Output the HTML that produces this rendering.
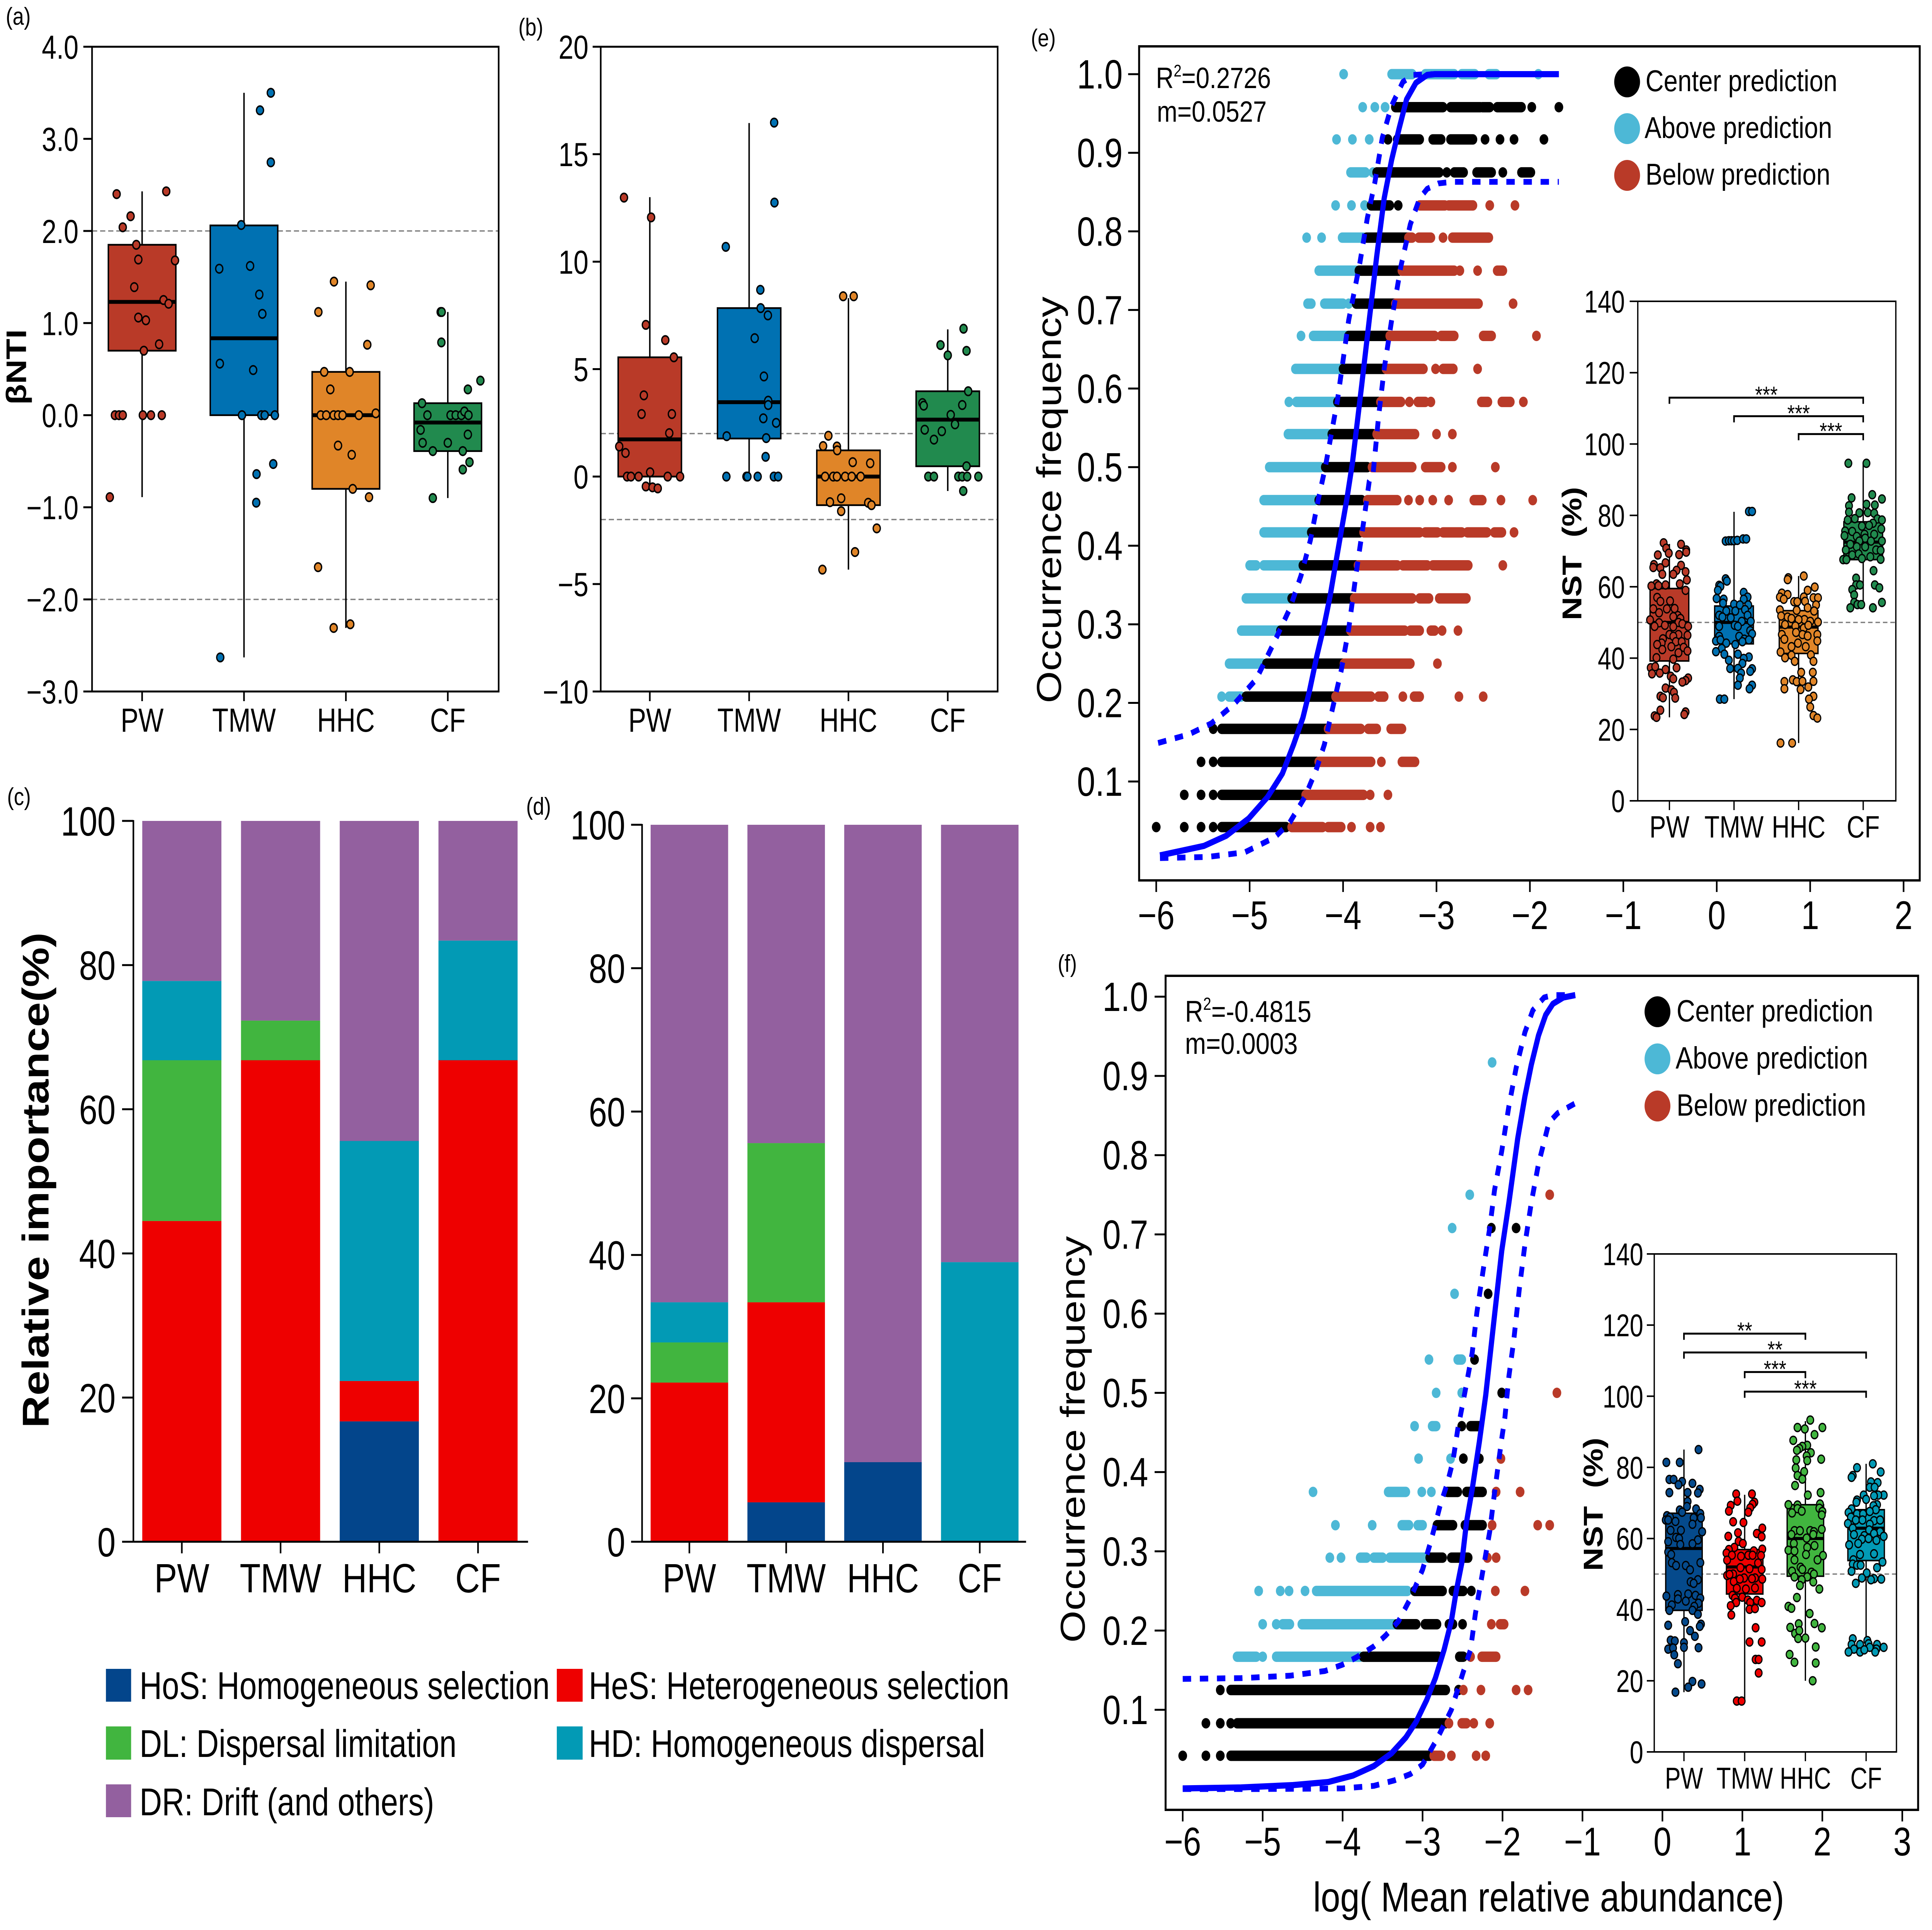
<!DOCTYPE html>
<html lang="en">
<head>
<meta charset="utf-8">
<title>Community assembly figure</title>
<style>
html,body{margin:0;padding:0;background:#fff;width:100%;height:100%;overflow:hidden}
svg{display:block;width:100vw;height:100vh;font-family:"Liberation Sans",Arial,sans-serif}
</style>
</head>
<body>
<svg id="figure" xmlns="http://www.w3.org/2000/svg" viewBox="0 0 5982 4996" preserveAspectRatio="none">
<rect x="0" y="0" width="5982" height="4996" fill="#fff"/>
<g font-size="63" fill="#000">
<text x="18" y="64">(a)</text>
<text x="1605" y="92">(b)</text>
<text x="22" y="2084">(c)</text>
<text x="1629" y="2109">(d)</text>
<text x="3192" y="120">(e)</text>
<text x="3275" y="2516">(f)</text>
</g>
<text transform="translate(81 950) rotate(-90)" text-anchor="middle" font-size="88" font-weight="bold">βNTI</text>
<text transform="translate(150 3055) rotate(-90)" text-anchor="middle" font-size="116" font-weight="bold">Relative importance(%)</text>
<text transform="translate(3285 1294) rotate(-90)" text-anchor="middle" font-size="107">Occurrence frequency</text>
<text transform="translate(3358 3726) rotate(-90)" text-anchor="middle" font-size="107">Occurrence frequency</text>
<text x="4795" y="4948" text-anchor="middle" font-size="108">log( Mean relative abundance)</text>
<text transform="translate(4896 1433) rotate(-90)" text-anchor="middle" font-size="84" font-weight="bold">NST&#160;&#160;(%)</text>
<text transform="translate(4962 3894) rotate(-90)" text-anchor="middle" font-size="84" font-weight="bold">NST&#160;&#160;(%)</text>
<g font-size="76">
<text x="3579" y="228">R<tspan font-size="44" dy="-30">2</tspan><tspan dy="30">=0.2726</tspan></text>
<text x="3582" y="315">m=0.0527</text>
</g>
<g font-size="78">
<text x="3669" y="2645">R<tspan font-size="45" dy="-31">2</tspan><tspan dy="31">=-0.4815</tspan></text>
<text x="3669" y="2728">m=0.0003</text>
</g>
<g font-size="78">
<circle cx="5038" cy="212" r="40" fill="#000"/>
<text x="5095" y="236">Center prediction</text>
<circle cx="5038" cy="333" r="40" fill="#4db8d6"/>
<text x="5092" y="357">Above prediction</text>
<circle cx="5038" cy="454" r="40" fill="#b93a28"/>
<text x="5095" y="478">Below prediction</text>
</g>
<g font-size="80">
<circle cx="5132" cy="2619" r="40" fill="#000"/>
<text x="5191" y="2644">Center prediction</text>
<circle cx="5132" cy="2741" r="40" fill="#4db8d6"/>
<text x="5188" y="2766">Above prediction</text>
<circle cx="5132" cy="2863" r="40" fill="#b93a28"/>
<text x="5191" y="2888">Below prediction</text>
</g>
<g font-size="100">
<rect x="328" y="4320" width="78" height="85" fill="#03458b"/>
<text transform="translate(432 4398) scale(.96 1)">HoS: Homogeneous selection</text>
<rect x="1724" y="4320" width="80" height="85" fill="#ee0000"/>
<text transform="translate(1823 4398) scale(.96 1)">HeS: Heterogeneous selection</text>
<rect x="328" y="4469" width="78" height="86" fill="#41b53f"/>
<text transform="translate(432 4548) scale(.96 1)">DL: Dispersal limitation</text>
<rect x="1724" y="4469" width="80" height="86" fill="#029ab5"/>
<text transform="translate(1823 4548) scale(.96 1)">HD: Homogeneous dispersal</text>
<rect x="328" y="4619" width="78" height="85" fill="#93609f"/>
<text transform="translate(432 4699) scale(.96 1)">DR: Drift (and others)</text>
</g>
</svg>
<script>
/* ---------- shared category labels ---------- */
const siteCategories = ['PW','TMW','HHC','CF'];

/* ---------- panel (a) betaNTI: [jitter in category units, value] ---------- */
const ntiTicks = [4,3,2,1,0,-1,-2,-3];
const ntiTickLabels = ['4.0','3.0','2.0','1.0','0.0','\u22121.0','\u22122.0','\u22123.0'];
const ntiThresholds = [2,-2];
const ntiBoxes = [[-.89,.70,1.23,1.85,2.43],[-2.63,0,.835,2.06,3.5],[-2.31,-.80,0,.47,1.45],[-.90,-.39,-.08,.13,1.12]];
const ntiPW = [[-.25,2.40],[.237,2.43],[-.113,2.16],[-.19,2.04],[-.057,1.85],[-.037,1.69],[.323,1.68],[-.077,1.39],[.21,1.25],[.26,1.21],[-.037,1.06],[.037,1.03],[.017,.70],[.167,.77],[-.267,0],[-.227,0],[-.19,0],[.007,0],[.087,0],[.193,0],[-.317,-.89]];
const ntiTMW = [[.263,3.50],[.157,3.31],[.263,2.745],[-.027,2.065],[-.243,1.59],[.06,1.62],[.15,1.31],[.18,1.10],[-.237,.56],[.09,.49],[-.02,0],[.17,0],[.203,0],[.303,0],[.123,-.64],[.287,-.53],[.12,-.95],[-.233,-2.63]];
const ntiHHC = [[-.117,1.45],[.243,1.41],[-.27,1.12],[.21,.765],[-.213,.47],[.037,.47],[-.153,.28],[-.247,0],[-.193,0],[-.12,0],[-.077,0],[-.033,0],[.127,0],[.293,.02],[-.077,-.33],[.057,-.43],[.067,-.80],[.227,-.89],[-.273,-1.65],[-.12,-2.31],[.043,-2.27]];
const ntiCF = [[-.07,1.12],[-.06,1.12],[-.063,.79],[.32,.375],[.197,.28],[-.253,.13],[-.2,0],[.027,0],[.077,0],[.133,0],[.163,.04],[.203,0],[-.267,-.16],[.197,-.21],[-.247,-.30],[0,-.30],[-.147,-.39],[.147,-.39],[.213,-.51],[.147,-.59],[-.147,-.90]];

/* ---------- panel (b) ---------- */
const nriTicks = [20,15,10,5,0,-5,-10];
const nriTickLabels = ['20','15','10','5','0','\u22125','\u221210'];
const nriThresholds = [2,-2];
const nriBoxes = [[-.55,0,1.73,5.55,13],[0,1.77,3.46,7.84,16.45],[-4.33,-1.33,0,1.22,8.3],[-.67,.48,2.65,3.97,6.85]];
const nriPW = [[-.26,12.98],[.013,12.06],[-.04,7.06],[.156,6.35],[.242,5.55],[-.06,3.78],[-.083,2.91],[.222,2.91],[.196,2.02],[-.308,1.40],[-.245,1.10],[-.229,0],[-.19,0],[-.113,0],[.18,0],[.305,0],[.003,.2],[-.04,-.46],[.027,-.5],[.08,-.55]];
const nriTMW = [[.252,16.47],[.255,12.75],[-.235,10.69],[.113,8.69],[.116,7.84],[.189,7.5],[.056,6.44],[.149,4.66],[.192,3.53],[.192,3.33],[.143,2.71],[.272,2.5],[-.226,1.88],[.172,1.79],[.166,.92],[-.229,0],[-.027,0],[-.017,0],[.086,0],[.249,0],[.292,0]];
const nriHHC = [[-.053,8.39],[.053,8.39],[-.202,1.9],[-.255,1.42],[-.116,1.4],[-.113,1.22],[.043,.67],[.219,.62],[-.235,0],[-.153,0],[-.116,0],[-.033,0],[.033,0],[.123,0],[-.073,-1.01],[-.186,-1.19],[.199,-1.22],[.232,-1.33],[-.073,-1.61],[.285,-2.41],[.066,-3.51],[-.262,-4.33]];
const nriCF = [[.159,6.88],[-.073,6.12],[0,5.64],[.189,5.85],[.206,3.97],[-.255,3.42],[-.242,3.3],[.146,3.33],[.03,2.87],[.073,2.43],[-.232,2.18],[-.06,2.11],[-.139,1.72],[.189,.48],[-.196,0],[-.139,0],[.106,0],[.146,0],[.196,0],[.308,0],[.156,-.67]];

/* ---------- panels (c) and (d) stacked bars ---------- */
const importanceTicks = [100,80,60,40,20,0];
const processNames = ['HoS','HeS','DL','HD','DR'];
const cHoS = [0,0,16.7,0];
const cHeS = [44.5,66.8,5.6,66.8];
const cDL = [22.3,5.5,0,0];
const cHD = [11,0,33.3,16.6];
const cDR = [22.2,27.7,44.4,16.6];
const dHoS = [0,5.5,11.1,0];
const dHeS = [22.2,27.9,0,0];
const dDL = [5.6,22.2,0,0];
const dHD = [5.6,0,0,39];
const dDR = [66.6,44.4,88.9,61];

/* ---------- panel (e) neutral model: numbers are single taxa, pairs are dense runs ---------- */
const occurrenceTicks = [1,.9,.8,.7,.6,.5,.4,.3,.2,.1];
const occurrenceTickLabels = ['1.0','0.9','0.8','0.7','0.6','0.5','0.4','0.3','0.2','0.1'];
const abundanceTicksE = [-6,-5,-4,-3,-2,-1,0,1,2];
const abundanceTicksF = [-6,-5,-4,-3,-2,-1,0,1,2,3];
const occurrenceE = [1,.958,.917,.875,.833,.792,.75,.708,.667,.625,.583,.542,.5,.458,.417,.375,.333,.292,.25,.208,.167,.125,.083,.042];
const aboveE = [
[-3.994,[-3.48,-3.26],[-3.12,-2.81],[-2.73,-2.59],[-2.44,-2.36],-1.91],
[-3.79,-3.66,-3.55],
[-4.07,-3.90,-3.72],
[[-3.92,-3.76],-3.68],
[-4.08,-3.91,-3.77],
[-4.39,-4.23,[-4.01,-3.78]],
[[-4.26,-3.86]],
[[-4.38,-4.34],[-4.20,-4.0],-3.94],
[-4.45,[-4.32,-3.96]],
[[-4.51,-4.02]],
[-4.58,[-4.50,-4.08]],
[[-4.59,-4.16]],
[[-4.79,-4.24]],
[[-4.85,-4.30]],
[[-4.85,-4.36]],
[[-5.0,-4.93],[-4.85,-4.46]],
[[-5.04,-4.57]],
[[-5.09,-4.69]],
[[-5.22,-4.86]],
[-5.30,[-5.22,-5.09]],
[],[],[],[]];
const centerE = [
[],
[[-3.44,-2.93],[-2.85,-2.53],[-2.51,-2.43],[-2.35,-2.09],-1.98,-1.69],
[-3.52,[-3.42,-3.18],[-3.04,-2.95],[-2.85,-2.61],-2.48,-2.32,-2.17,-1.85],
[[-3.64,-2.97],-2.89,[-2.81,-2.71],[-2.57,-2.41],-2.29,[-2.09,-1.99]],
[[-3.70,-3.50],-3.41],
[[-3.75,-3.30]],
[[-3.83,-3.40]],
[[-3.86,-3.44]],
[[-3.94,-3.51]],
[[-4.0,-3.56]],
[[-4.06,-3.62]],
[[-4.12,-3.68]],
[[-4.19,-3.74]],
[[-4.26,-3.80]],
[[-4.34,-3.82]],
[[-4.43,-3.86]],
[[-4.55,-3.90]],
[[-4.67,-3.94]],
[[-4.82,-4.0]],
[[-5.04,-4.08]],
[-5.39,[-5.30,-4.16]],
[-5.52,-5.39,[-5.30,-4.28]],
[-5.70,-5.52,-5.39,[-5.30,-4.40]],
[-6.0,-5.70,-5.52,-5.39,[-5.30,-4.61]]];
const belowE = [
[],[],[],[],
[[-3.18,-2.91],[-2.87,-2.61],-2.43,-2.16],
[[-3.30,-3.26],[-3.19,-3.06],-2.93,[-2.83,-2.44]],
[[-3.37,-2.81],-2.75,-2.56,[-2.35,-2.29]],
[[-3.44,-2.55],-2.18],
[[-3.50,-3.02],[-2.95,-2.81],[-2.50,-2.41],-1.93],
[[-3.54,-3.14],-3.01,[-2.93,-2.82],-2.56],
[[-3.60,-3.38],-3.29,[-3.20,-3.12],-3.06,[-2.52,-2.45],[-2.30,-2.21],-2.07],
[[-3.64,-3.23],-3.0,-2.83],
[[-3.69,-3.26],[-3.12,-2.95],-2.83,-2.37],
[[-3.74,-3.42],-3.30,-3.18,-3.04,-2.87,[-2.60,-2.51],-2.31,-1.97],
[[-3.78,-3.18],[-3.12,-2.99],[-2.93,-2.73],[-2.67,-2.46],[-2.38,-2.30],-2.17],
[[-3.84,-3.42],[-3.36,-3.10],[-3.04,-2.66],-2.29],
[[-3.88,-3.26],[-3.18,-3.08],[-2.97,-2.68]],
[[-3.92,-3.34],[-3.28,-3.18],[-3.06,-3.02],-2.94,-2.77],
[[-3.99,-3.28],-2.99],
[[-4.08,-3.70],[-3.62,-3.56],-3.36,[-3.24,-3.18],-2.76,-2.50],
[[-4.16,-3.81],[-3.73,-3.64],[-3.49,-3.37]],
[[-4.26,-3.70],-3.59,[-3.37,-3.23]],
[[-4.40,-3.78],-3.71,-3.52],
[[-4.55,-4.22],[-4.16,-4.02],-3.91,-3.71,-3.60]];
const fitE = [[-5.96,.006],[-5.49,.018],[-5.25,.031],[-5.01,.053],[-4.81,.08],[-4.65,.11],[-4.53,.147],[-4.43,.181],[-4.36,.215],[-4.28,.26],[-4.2,.30],[-4.14,.335],[-4.08,.377],[-4.02,.418],[-3.96,.459],[-3.90,.505],[-3.80,.605],[-3.72,.687],[-3.64,.768],[-3.56,.842],[-3.48,.891],[-3.40,.931],[-3.32,.968],[-3.22,.989],[-3.10,.999],[-3.02,1],[-1.69,1]];
const upperE = [[-5.98,.149],[-5.65,.16],[-5.41,.174],[-5.17,.198],[-4.93,.23],[-4.73,.279],[-4.57,.32],[-4.45,.362],[-4.35,.407],[-4.27,.456],[-4.19,.50],[-4.06,.585],[-3.94,.687],[-3.82,.76],[-3.74,.817],[-3.66,.862],[-3.58,.919],[-3.48,.96],[-3.36,.99],[-3.25,.999],[-3.10,1],[-1.69,1]];
const lowerE = [[-5.96,.0026],[-5.45,.004],[-5.05,.01],[-4.73,.029],[-4.57,.048],[-4.41,.08],[-4.29,.114],[-4.2,.147],[-4.12,.189],[-4.02,.241],[-3.94,.294],[-3.86,.365],[-3.78,.43],[-3.72,.482],[-3.68,.49],[-3.62,.564],[-3.56,.625],[-3.48,.687],[-3.38,.756],[-3.28,.809],[-3.18,.842],[-3.10,.854],[-2.98,.861],[-2.83,.863],[-1.69,.863]];

/* ---------- panel (f) neutral model ---------- */
const occurrenceF = [.917,.75,.708,.625,.542,.5,.458,.417,.375,.333,.292,.25,.208,.167,.125,.083,.042];
const aboveF = [
[-2.13],
[-2.41],
[-2.63],
[-2.60],
[-2.92,[-2.56,-2.51]],
[-2.83,-2.51],
[-3.10,[-2.88,-2.83]],
[-3.05,-2.65],
[-4.37,[-3.43,-3.21],-3.01,-2.89],
[-4.09,-3.63,[-3.26,-3.17],[-3.06,-3.0]],
[-4.16,-4.02,[-3.78,-3.70],[-3.61,-3.50],[-3.41,-2.93]],
[-5.05,-4.78,-4.67,-4.47,[-4.33,-3.19]],
[-5.0,-4.83,[-4.75,-4.66],[-4.51,-3.35]],
[[-5.32,-5.08],-5.0,[-4.83,-3.78]],
[],[],[]];
const centerF = [
[],[],
[-2.14,-1.83],
[-2.18],
[-2.35],
[-2.01],
[-2.51,[-2.40,-2.29]],
[-2.49,-2.29],
[[-2.69,-2.56],[-2.45,-2.25]],
[[-2.82,-2.62],[-2.47,-2.25]],
[[-2.91,-2.75],[-2.64,-2.43]],
[[-3.10,-2.75],[-2.62,-2.49],-2.39],
[[-3.32,-3.08],[-2.97,-2.82],[-2.67,-2.62],-2.50],
[[-3.74,-2.80],[-2.54,-2.49]],
[-5.53,[-5.40,-2.71],-2.55],
[-5.71,-5.53,-5.40,[-5.32,-2.71]],
[-6.0,-5.71,-5.53,[-5.40,-2.91]]];
const belowF = [
[],
[-1.41],
[],[],[],
[-1.32],
[],
[-2.02],
[-2.08,-1.78],
[-2.13,-1.56,-1.41],
[-2.19,-2.08],
[-2.09,-1.72],
[-2.14,[-2.03,-1.98]],
[-2.40,[-2.26,-2.08]],
[-2.49,-2.27,-1.83,-1.68],
[-2.67,[-2.51,-2.45],-2.36,-2.16],
[[-2.86,-2.77],-2.64,-2.33,-2.21]];
const fitF = [[-6,.0008],[-5.27,.002],[-4.62,.005],[-4.18,.0089],[-3.87,.017],[-3.61,.029],[-3.39,.045],[-3.21,.065],[-3.08,.085],[-2.95,.112],[-2.84,.14],[-2.73,.176],[-2.64,.212],[-2.58,.249],[-2.51,.285],[-2.45,.337],[-2.38,.378],[-2.29,.438],[-2.21,.497],[-2.10,.598],[-2.01,.679],[-1.92,.74],[-1.81,.821],[-1.72,.874],[-1.64,.914],[-1.55,.951],[-1.46,.977],[-1.37,.991],[-1.24,.999],[-1.09,1.002]];
const upperF = [[-6,.139],[-5.27,.14],[-4.66,.143],[-4.22,.149],[-4.0,.157],[-3.83,.166],[-3.61,.18],[-3.46,.194],[-3.30,.212],[-3.15,.241],[-3.0,.277],[-2.89,.315],[-2.78,.358],[-2.69,.386],[-2.62,.414],[-2.56,.454],[-2.47,.501],[-2.38,.55],[-2.32,.602],[-2.23,.663],[-2.16,.708],[-2.10,.756],[-2.01,.805],[-1.92,.862],[-1.83,.91],[-1.72,.955],[-1.62,.983],[-1.48,.999],[-1.37,1.002],[-1.11,1.002]];
const lowerF = [[-6,0],[-5.05,0],[-4.0,.0008],[-3.61,.004],[-3.35,.011],[-3.15,.019],[-3.0,.031],[-2.82,.063],[-2.64,.1],[-2.49,.148],[-2.40,.176],[-2.34,.221],[-2.25,.273],[-2.16,.325],[-2.10,.374],[-2.01,.442],[-1.97,.469],[-1.92,.521],[-1.86,.566],[-1.79,.631],[-1.72,.687],[-1.64,.74],[-1.55,.789],[-1.46,.825],[-1.42,.841],[-1.31,.853],[-1.08,.866]];

/* ---------- NST insets ---------- */
const nstTicks = [140,120,100,80,60,40,20,0];
const nstReference = [50];
const nstEBoxes = [[23.4,39.2,50,59.5,72],[28.5,44,50,54.6,81],[16.2,41.3,48.7,53.3,63],[54.5,67.6,72.5,78.2,94.5]];
const nstEBrackets = [[0,3,113,'***'],[1,3,107.8,'***'],[2,3,102.8,'***']];
const nstEPW = [[-.09,72.3],[.18,71.9],[-.05,70.8],[.26,70.3],[-.01,69.4],[-.18,68.9],[.15,69],[.26,69.7],[-.06,66.7],[-.24,66.2],[.18,66],[-.25,65.4],[-.14,65.3],[.11,64.6],[.06,63.5],[.25,64.2],[-.11,63.5],[.27,61.9],[-.2,60.8],[-.06,60.5],[-.17,60.3],[-.28,60.2],[.16,60.8],[.25,59],[-.19,57],[-.14,55.9],[.01,56],[-.25,53.8],[-.04,53.8],[.08,53.9],[-.16,52.7],[.13,51.9],[.06,51.6],[.17,51.1],[-.3,50.7],[-.16,49.9],[-.07,49.2],[.14,50],[.2,49.6],[.29,48.9],[-.23,48.9],[.06,48.8],[-.1,45.4],[0,46.6],[.14,46.6],[.28,46.4],[.06,46.1],[-.12,44.2],[.1,44.6],[.19,44.6],[-.19,43.8],[.03,43.2],[.22,43],[-.11,42.4],[.28,42],[.14,41.5],[-.2,40.1],[.06,39.7],[-.29,37.3],[-.22,37.6],[.11,37.3],[-.06,36.8],[-.27,35.6],[-.15,35.8],[.02,34.9],[.06,34.2],[.29,34.4],[.25,33.7],[.2,33.3],[-.06,31.6],[.03,31.1],[.07,30.4],[-.14,29.3],[-.1,28.9],[.09,28.8],[-.14,25.4],[.25,24.9],[.23,24.2],[-.23,23.8],[-.2,23.4]];
const nstETMW = [[.23,81.1],[.28,81.1],[-.13,72.8],[-.08,72.9],[-.04,72.9],[0,72.9],[.05,73],[.14,73.4],[.19,73.4],[-.13,62.2],[-.11,61.6],[-.23,60.4],[-.21,60.1],[-.25,59],[.15,58.4],[.21,57.1],[-.27,56.7],[-.16,56.5],[.15,56.5],[-.17,55.4],[0,55.1],[.09,54.9],[.22,54.9],[-.12,53.2],[.02,53.2],[.17,53.6],[-.23,52],[.21,52],[-.18,51.5],[-.05,51.3],[.12,50.3],[.26,50.3],[-.23,48.9],[.01,49.2],[.06,48.9],[.25,47.7],[.28,46.8],[.08,46.1],[-.23,46.1],[-.28,44.8],[-.21,45.1],[.16,45.3],[.23,45.1],[-.12,44.2],[.02,43.8],[.13,44.6],[-.19,42.7],[-.28,41.8],[.06,41.1],[-.15,41.1],[.23,40.3],[.15,39.9],[-.08,39.4],[.13,38.5],[-.06,37.1],[.06,37.1],[.28,37],[.25,36.3],[.11,35.8],[.09,34.4],[.28,32.4],[.06,32.4],[.24,31.4],[-.22,28.5],[-.15,28.5]];
const nstEHHC = [[.08,63],[-.16,62.5],[-.17,62],[.25,59.9],[.14,59],[-.26,58.2],[-.17,57.8],[-.29,57.1],[.08,57.1],[.23,56.9],[.3,56.9],[-.23,56.5],[-.07,55.8],[.1,55.9],[-.02,55.8],[.27,54.9],[.14,54.1],[-.29,53.5],[-.03,53.4],[.24,53.2],[-.27,51.8],[-.17,51.5],[-.11,51.1],[.09,50.8],[0,50.8],[.18,50.3],[.3,50.1],[-.21,49.4],[-.05,49],[.08,48.4],[.15,49.2],[-.04,47.2],[-.26,46.6],[.06,46.6],[.14,46.2],[.29,46.6],[-.22,45.3],[.29,44.8],[-.01,44.2],[-.11,43.2],[.11,43.2],[-.28,41.7],[-.11,40.8],[.19,40.9],[-.21,40.1],[-.06,39.1],[.23,39.1],[.04,36],[.22,36],[-.09,33.9],[-.22,33.4],[-.03,33.4],[.06,33.5],[.23,33.5],[.15,31.9],[-.22,31.4],[.03,31.2],[.23,29.3],[.16,28.5],[.18,26.3],[.23,23.9],[.29,23.2],[-.28,16.2],[-.1,16.2]];
const nstECF = [[-.23,94.6],[.05,94.6],[-.18,84.9],[.14,85.8],[.29,84.6],[-.22,82.7],[.05,83.1],[.18,82.9],[-.06,80.7],[-.22,80.9],[.07,80.8],[.17,80.6],[-.24,78.7],[-.13,79.1],[.22,79],[.29,78.7],[-.02,77],[.15,77.8],[.09,77.2],[.28,76.2],[-.28,75.6],[-.17,75.5],[.17,74.7],[-.29,74.3],[.02,74.7],[-.1,74.1],[.03,73.6],[-.06,72.8],[.12,72.8],[.29,72.8],[-.2,71.9],[-.1,71.2],[.03,71.2],[-.27,70.3],[.2,70.3],[.27,70.2],[-.17,68.9],[-.07,69.2],[.11,68.4],[-.31,67.6],[-.26,67.6],[-.02,67.9],[.27,67.7],[.16,64.5],[-.11,62.4],[-.11,60.5],[-.05,60.5],[.18,60.5],[-.17,59.2],[.25,59.7],[-.14,57.7],[-.14,55.6],[.29,55.6],[-.2,54.1],[-.09,55],[-.03,55],[.15,54.1]];
const nstFBoxes = [[16.8,39.8,57.2,67.1,85],[14.3,44.4,52,56.9,72.3],[20,49.4,60,69.5,93],[28.1,53.8,62.9,68.1,81]];
const nstFBrackets = [[0,2,117.6,'**'],[0,3,112.3,'**'],[1,2,106.8,'***'],[1,3,101.3,'***']];
const nstFPW = [[.24,85],[-.29,81.4],[-.07,81.4],[-.24,76.6],[-.17,76.6],[-.03,76],[-.09,75.1],[.14,75.5],[.26,73.8],[-.24,72.9],[.23,72.8],[.06,72.9],[.06,70.4],[.05,69],[-.07,68],[.2,68.3],[-.03,67.4],[-.28,66.4],[-.23,66],[.27,67],[.16,65.8],[.28,65.8],[-.3,65.2],[-.26,65.2],[-.14,64.8],[.14,64],[-.22,62.3],[-.05,62.3],[.3,61.9],[-.13,60.3],[-.08,60],[.23,59.6],[-.26,59.1],[-.06,58.3],[.14,58.5],[-.26,56.2],[-.21,55.5],[.27,53.2],[-.2,53.2],[-.13,52.4],[.03,52.4],[.1,51.2],[.23,48.4],[.11,47.8],[.16,47.4],[-.29,43.8],[-.1,44.2],[.07,44.4],[.19,44],[.27,43.2],[-.1,43],[.03,42.4],[.24,41.8],[-.2,41.3],[.17,40.9],[-.24,39.8],[.14,39.8],[.23,38.7],[.02,36.6],[-.26,35.6],[.28,35.9],[.26,35.3],[.1,34.1],[.18,32.5],[-.22,31.4],[-.15,31.2],[0,30.7],[0,29.4],[.24,29.3],[-.26,28.9],[-.18,29.2],[-.16,27.3],[-.1,24.8],[.14,19.8],[.29,19.1],[.07,18.2],[-.14,16.8]];
const nstFTMW = [[-.14,72.5],[.12,72.5],[-.23,69.3],[-.12,70.5],[.16,70.2],[.13,69.6],[.09,68.6],[-.26,67.7],[.06,67.4],[-.19,64.7],[-.02,64.5],[.29,62.9],[-.11,61.6],[.2,61.4],[.28,60.5],[-.27,60.6],[-.1,59.2],[-.03,58.6],[-.17,57.5],[-.26,56.9],[.29,57],[.15,56.5],[-.3,55.9],[-.21,55.3],[-.06,55],[.06,55.3],[.13,55.3],[.27,55.2],[-.29,53.9],[.22,53.1],[-.07,51.8],[.08,51.5],[.28,51.3],[-.29,49.6],[-.19,50],[-.25,49.9],[.17,48.9],[-.01,48.9],[.12,48.7],[.29,48.6],[-.18,47.9],[-.08,48.6],[.17,46.1],[-.13,46],[.02,45.8],[-.04,43.5],[-.2,44],[-.16,43.2],[.05,42.7],[.2,42.6],[.28,42],[-.14,42],[.09,42],[-.23,41.1],[.08,40.1],[.17,40.3],[-.22,38.5],[.18,34.9],[.08,30.9],[.28,30.9],[.18,26],[.23,26],[.23,22.2],[-.13,14.3],[-.05,14.3]];
const nstFHHC = [[.08,93.3],[-.13,91.2],[.28,91.2],[-.01,90.8],[.15,89.2],[-.2,87.6],[.03,86.2],[-.05,85.9],[-.1,85.3],[-.14,84.8],[.09,84.1],[.02,83.2],[.26,82.3],[-.15,82.1],[.03,81.9],[-.16,79.8],[-.02,78.8],[-.13,77.7],[-.05,76.7],[-.17,74.9],[.25,72.9],[.04,72.2],[-.28,69.5],[-.13,69.4],[.24,69.7],[-.13,68.4],[.23,68.5],[-.06,67.7],[-.22,67.2],[.28,67.6],[.27,66.6],[-.18,62.2],[-.09,62.2],[.08,62.2],[.14,61.9],[.27,62.6],[-.23,61.1],[.13,61.1],[.02,60.1],[-.19,58.6],[.15,58],[.03,57.5],[-.28,56.7],[-.18,56.5],[.01,55.5],[.29,55.2],[-.18,54],[.2,54],[-.08,51.9],[-.05,51.3],[-.22,50.8],[.1,50.5],[.14,50],[-.18,49.2],[.03,49.2],[-.06,48.4],[.13,47.8],[-.09,46.8],[.23,45.8],[-.14,43.4],[-.28,40.9],[-.23,40.4],[.07,38.9],[.15,36.1],[-.11,36],[-.25,35],[.27,34.9],[-.17,33.3],[-.1,34.1],[-.12,31.9],[0,32],[.17,29.5],[-.26,27.4],[-.18,25.2],[.17,25],[.12,20]];
const nstFCF = [[.11,81],[-.15,79.9],[-.22,77.7],[.24,78.7],[-.24,77.2],[.08,75.9],[.19,75.7],[.06,74.4],[.14,74.4],[-.04,72.2],[.29,72.2],[.2,72.2],[0,71],[.13,72],[-.15,70.8],[.18,69.5],[.12,69.2],[-.16,70.2],[-.24,68.3],[.16,68.1],[.06,67.6],[-.29,67.3],[-.15,66.9],[-.05,66.9],[-.25,66],[-.17,65.2],[-.06,65.2],[.13,65],[.23,65.2],[-.3,64.2],[.06,64],[-.22,62.9],[.05,62.4],[.23,61.9],[-.2,61.1],[-.03,60.8],[.13,61.4],[.29,60.6],[-.07,59.8],[.17,59.5],[.04,60],[-.28,58.2],[-.13,58.6],[-.1,55.5],[.13,55.7],[-.21,54],[.27,53.4],[-.22,52.8],[-.15,52.5],[-.09,52.5],[.18,51.8],[-.24,50.8],[.01,50.3],[.13,48.7],[-.07,48.9],[.08,48.4],[.25,48.6],[-.17,47.4],[-.22,31.8],[.02,31.3],[.04,30.4],[.18,30.2],[-.24,30.2],[-.1,30.2],[.29,29.4],[.06,29.4],[.17,28.9],[-.2,28.9],[-.29,28.1],[-.1,28.1],[-.03,28.7],[.15,28.1]];

/* ---------- rendering helpers ---------- */
const SVGNS = 'http://www.w3.org/2000/svg';
const figure = document.getElementById('figure');
function node(parent, tag, attrs, name) {
  const el = document.createElementNS(SVGNS, tag);
  for (const k in attrs) el.setAttribute(k, attrs[k]);
  
  
  parent.appendChild(el);
  return el;
}
function linear(d0, d1, r0, r1) { return v => r0 + (v - d0) / (d1 - d0) * (r1 - r0); }
function label(parent, x, y, str, size, anchor, sx, name) {
  const el = node(parent, 'text', {transform: `translate(${x} ${y}) scale(${sx} 1)`, 'font-size': size, 'text-anchor': anchor}, name);
  el.textContent = str;
  return el;
}
function yAxis(parent, y, ticks, labels, o) {
  ticks.forEach((t, i) => {
    node(parent, 'line', {x1: o.x - o.len, x2: o.x, y1: y(t), y2: y(t), stroke: '#000', 'stroke-width': o.sw}, 'y-tick');
    label(parent, o.labelX, y(t) + o.base, labels[i], o.size, 'end', o.sx, 'y-tick-label');
  });
}
function xAxis(parent, x, ticks, labels, o) {
  ticks.forEach((t, i) => {
    node(parent, 'line', {x1: x(t), x2: x(t), y1: o.y, y2: o.y + o.len, stroke: '#000', 'stroke-width': o.sw}, 'x-tick');
    label(parent, x(t), o.labelY, labels[i], o.size, 'middle', o.sx, 'x-tick-label');
  });
}
function boxPanel(name, c, boxes, groups, ticks, tickLabels, refs, colors) {
  const g = node(figure, 'g', {}, name);
  const y = linear(c.dTop, c.dBottom, c.top, c.bottom);
  const x = linear(0, 1, c.c0, c.c0 + c.step);
  node(g, 'rect', {x: c.left, y: c.top, width: c.right - c.left, height: c.bottom - c.top, fill: '#fff'}, 'plot-area');
  refs.forEach(r => node(g, 'line', {x1: c.left, x2: c.right, y1: y(r), y2: y(r), stroke: '#808080', 'stroke-width': c.dashW, 'stroke-dasharray': c.dash}, 'reference-line'));
  boxes.forEach((b, i) => {
    const cx = x(i);
    node(g, 'line', {x1: cx, x2: cx, y1: y(b[0]), y2: y(b[4]), stroke: '#000', 'stroke-width': c.whisk}, 'whisker');
    node(g, 'rect', {x: cx - c.boxW / 2, y: y(b[3]), width: c.boxW, height: y(b[1]) - y(b[3]), fill: colors[i], stroke: '#000', 'stroke-width': c.boxS}, 'box');
    node(g, 'line', {x1: cx - c.boxW / 2, x2: cx + c.boxW / 2, y1: y(b[2]), y2: y(b[2]), stroke: '#000', 'stroke-width': c.med}, 'median');
  });
  groups.forEach((pts, i) => {
    pts.forEach(p => node(g, 'circle', {cx: x(i + p[0]), cy: y(p[1]), r: c.r, fill: colors[i], stroke: '#000', 'stroke-width': c.rs}, 'point'));
  });
  node(g, 'rect', {x: c.left, y: c.top, width: c.right - c.left, height: c.bottom - c.top, fill: 'none', stroke: '#000', 'stroke-width': c.frame}, 'plot-frame');
  yAxis(g, y, ticks, tickLabels, {x: c.left, len: c.tickL, labelX: c.labelX, base: c.base, size: c.size, sx: c.sx, sw: c.tickW});
  xAxis(g, x, [0, 1, 2, 3], siteCategories, {y: c.bottom, len: c.tickD, labelY: c.xLabelY, size: c.xSize, sx: c.xSx, sw: c.tickW});
  return {g, x, y};
}
function brackets(panel, list, tickH, sw, star) {
  list.forEach(b => {
    const x0 = panel.x(b[0]), x1 = panel.x(b[1]), yy = panel.y(b[2]);
    node(panel.g, 'path', {d: `M${x0} ${yy + tickH}V${yy}H${x1}V${yy + tickH}`, fill: 'none', stroke: '#000', 'stroke-width': sw}, 'significance-bracket');
    label(panel.g, (x0 + x1) / 2, yy + 13, b[3], star, 'middle', 1, 'significance-stars');
  });
}
function stackedBars(name, c, series, colors) {
  const g = node(figure, 'g', {}, name);
  const y = linear(0, 100, c.bottom, c.top);
  const x = linear(0, 1, c.c0, c.c0 + c.step);
  siteCategories.forEach((cat, i) => {
    let sum = 0;
    series.forEach((s, k) => {
      if (s[i] > 0) {
        node(g, 'rect', {x: x(i) - c.barW / 2, y: y(sum + s[i]), width: c.barW, height: y(sum) - y(sum + s[i]), fill: colors[k]}, 'bar-segment-' + processNames[k].toLowerCase());
      }
      sum += s[i];
    });
  });
  node(g, 'line', {x1: c.left, x2: c.left, y1: c.top - 2, y2: c.bottom, stroke: '#000', 'stroke-width': 5}, 'y-axis-line');
  node(g, 'line', {x1: c.left, x2: c.xEnd, y1: c.bottom, y2: c.bottom, stroke: '#000', 'stroke-width': 5}, 'x-axis-line');
  yAxis(g, y, importanceTicks, importanceTicks.map(String), {x: c.left, len: c.tickL, labelX: c.labelX, base: 38, size: 106, sx: .96, sw: 5});
  xAxis(g, x, [0, 1, 2, 3], siteCategories, {y: c.bottom, len: 30, labelY: c.xLabelY, size: 106, sx: c.xSx, sw: 5});
}
function drawRuns(g, x, yy, runs, color, w, name) {
  runs.forEach(item => {
    if (Array.isArray(item)) {
      node(g, 'line', {x1: x(item[0]), x2: x(item[1]), y1: yy, y2: yy, stroke: color, 'stroke-width': w, 'stroke-linecap': 'round'}, name + '-run');
    } else {
      node(g, 'circle', {cx: x(item), cy: yy, r: w / 2, fill: color}, name + '-point');
    }
  });
}
function curve(g, x, y, pts, attrs, name) {
  const d = pts.map((p, i) => (i ? 'L' : 'M') + x(p[0]).toFixed(1) + ' ' + y(p[1]).toFixed(1)).join('');
  node(g, 'path', Object.assign({d, fill: 'none', stroke: '#0000ff', 'stroke-linejoin': 'round'}, attrs), name);
}
function neutralPanel(name, c, occ, above, center, below, fit, upper, lower, xTicks) {
  const g = node(figure, 'g', {}, name);
  const x = linear(-6, c.xMax, c.x0, c.x1);
  const y = linear(1, .1, c.y1, c.y01);
  occ.forEach((f, i) => drawRuns(g, x, y(f), above[i], '#4db8d6', c.dot, 'above-prediction'));
  occ.forEach((f, i) => drawRuns(g, x, y(f), center[i], '#000', c.dot, 'center-prediction'));
  occ.forEach((f, i) => drawRuns(g, x, y(f), below[i], '#b93a28', c.dot, 'below-prediction'));
  curve(g, x, y, upper, {'stroke-width': 15, 'stroke-dasharray': '26 27'}, 'upper-confidence-curve');
  curve(g, x, y, lower, {'stroke-width': 15, 'stroke-dasharray': '26 27'}, 'lower-confidence-curve');
  curve(g, x, y, fit, {'stroke-width': 16}, 'neutral-fit-curve');
  node(g, 'rect', {x: c.left, y: c.top, width: c.right - c.left, height: c.bottom - c.top, fill: 'none', stroke: '#000', 'stroke-width': 6}, 'plot-frame');
  yAxis(g, y, occurrenceTicks, occurrenceTickLabels, {x: c.left, len: 34, labelX: c.labelX, base: 37, size: 106, sx: .96, sw: 5});
  xAxis(g, x, xTicks, xTicks.map(t => t < 0 ? '\u2212' + (-t) : String(t)), {y: c.bottom, len: 30, labelY: c.xLabelY, size: 104, sx: .96, sw: 5});
}

/* ---------- draw ---------- */
const groupPalette = ['#b93a28','#0071b2','#e08528','#218a4e'];
const processPalette = ['#03458b','#ee0000','#41b53f','#029ab5','#93609f'];
const nstFPalette = ['#054a8c','#ee0000','#41b53f','#029ab5'];

boxPanel('beta-nti-panel', {left:285,right:1544,top:121,bottom:1790,dTop:4,dBottom:-3,c0:440,step:315.5,boxW:209,r:11,rs:4,boxS:4.5,med:10,whisk:4.5,dash:'16 9',dashW:3.5,frame:5,tickL:27,labelX:243,base:31,size:86,sx:.95,tickW:5,tickD:25,xLabelY:1894,xSize:86,xSx:.96},
  ntiBoxes,[ntiPW,ntiTMW,ntiHHC,ntiCF],ntiTicks,ntiTickLabels,ntiThresholds,groupPalette);
boxPanel('beta-nri-panel', {left:1860,right:3089,top:121,bottom:1790,dTop:20,dBottom:-10,c0:2012,step:307.5,boxW:196,r:11,rs:4,boxS:4.5,med:10,whisk:4.5,dash:'16 9',dashW:3.5,frame:5,tickL:25,labelX:1822,base:31,size:86,sx:.97,tickW:5,tickD:25,xLabelY:1894,xSize:86,xSx:.96},
  nriBoxes,[nriPW,nriTMW,nriHHC,nriCF],nriTicks,nriTickLabels,nriThresholds,groupPalette);

stackedBars('relative-importance-chart-c', {left:413,top:2125,bottom:3991,xEnd:1635,c0:563,step:305.7,barW:245,tickL:35,labelX:358,xLabelY:4122,xSx:1},
  [cHoS,cHeS,cDL,cHD,cDR],processPalette);
stackedBars('relative-importance-chart-d', {left:1988,top:2135,bottom:3991,xEnd:3177,c0:2134.5,step:299.7,barW:240,tickL:34,labelX:1936,xLabelY:4122,xSx:.97},
  [dHoS,dHeS,dDL,dHD,dDR],processPalette);

neutralPanel('neutral-model-panel-e', {left:3527,right:5944,top:120,bottom:2279,x0:3580,x1:5894,xMax:2,y1:192,y01:2023,dot:27,labelX:3476,xLabelY:2405},
  occurrenceE,aboveE,centerE,belowE,fitE,upperE,lowerE,abundanceTicksE);
neutralPanel('neutral-model-panel-f', {left:3609,right:5939,top:2526,bottom:4685,x0:3662,x1:5890,xMax:3,y1:2580,y01:4426,dot:27,labelX:3555,xLabelY:4803},
  occurrenceF,aboveF,centerF,belowF,fitF,upperF,lowerF,abundanceTicksF);

const insetE = boxPanel('nst-inset-e', {left:5071,right:5870,top:780,bottom:2073,dTop:140,dBottom:0,c0:5169,step:200,boxW:120,r:10.5,rs:3.5,boxS:4,med:8,whisk:4,dash:'14 9',dashW:3.5,frame:4,tickL:25,labelX:5031,base:29,size:82,sx:.92,tickW:4,tickD:24,xLabelY:2168,xSize:80,xSx:.96},
  nstEBoxes,[nstEPW,nstETMW,nstEHHC,nstECF],nstTicks,nstTicks.map(String),nstReference,groupPalette);
brackets(insetE,nstEBrackets,16,5,60);
const insetF = boxPanel('nst-inset-f', {left:5122,right:5872,top:3246,bottom:4535,dTop:140,dBottom:0,c0:5214,step:188,boxW:113,r:10.5,rs:3.5,boxS:4,med:8,whisk:4,dash:'14 9',dashW:3.5,frame:4,tickL:23,labelX:5088,base:29,size:82,sx:.92,tickW:4,tickD:24,xLabelY:4630,xSize:78,xSx:.94},
  nstFBoxes,[nstFPW,nstFTMW,nstFHHC,nstFCF],nstTicks,nstTicks.map(String),nstReference,nstFPalette);
brackets(insetF,nstFBrackets,16,5,60);
</script>
</body>
</html>
